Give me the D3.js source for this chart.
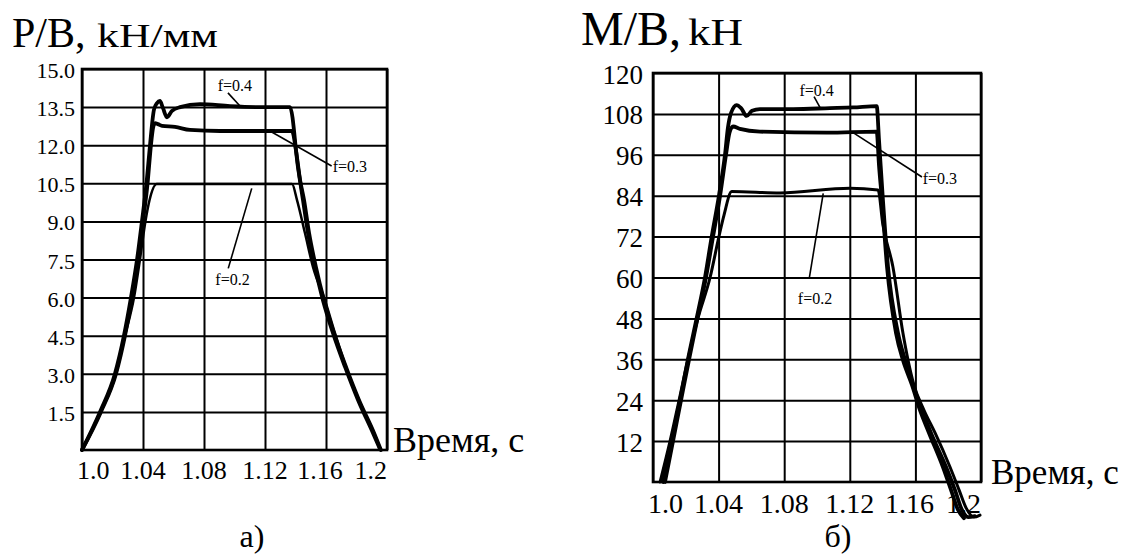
<!DOCTYPE html>
<html><head><meta charset="utf-8">
<script src="https://cdn.jsdelivr.net/npm/d3@7"></script>
<style>
body{margin:0;background:#fff}
svg{display:block}
text, tspan{font-family:"Liberation Serif","Times New Roman",Times,serif;fill:#000}
</style>
</head><body>
<svg id="c" width="1123" height="556" font-family="Liberation Serif"></svg>
<script>
// ---------- data ----------
const timeTicks = [1.0, 1.04, 1.08, 1.12, 1.16, 1.2];
const timeTickLabels = ["1.0", "1.04", "1.08", "1.12", "1.16", "1.2"];

const pbTicks = [1.5, 3, 4.5, 6, 7.5, 9, 10.5, 12, 13.5, 15];
const pbTickLabels = ["1.5", "3.0", "4.5", "6.0", "7.5", "9.0", "10.5", "12.0", "13.5", "15.0"];

const mbTicks = [12, 24, 36, 48, 60, 72, 84, 96, 108, 120];
const mbTickLabels = ["12", "24", "36", "48", "60", "72", "84", "96", "108", "120"];

// P/B, f = 0.4 / 0.3 / 0.2   [time, value]
const pb04 = [[1.0,0],[1.0118,1.5],[1.0216,3.0],[1.0275,4.5],[1.0321,6.0],[1.0361,7.5],[1.0393,9.0],[1.0423,10.5],[1.0446,12.0],[1.0472,13.4],[1.0492,13.66],[1.0511,13.74],[1.0531,13.46],[1.0557,13.1],[1.059,13.35],[1.0643,13.5],[1.0774,13.62],[1.097,13.54],[1.1167,13.5],[1.1364,13.5],[1.1416,11.14],[1.1449,9.84],[1.1482,8.54],[1.1528,7.2],[1.158,5.9],[1.1646,4.6],[1.1725,3.27],[1.181,1.97],[1.1908,0.67],[1.1954,0.04]];
const pb03 = [[1.0,0],[1.0124,1.5],[1.0223,3.0],[1.0282,4.5],[1.0328,6.0],[1.0367,7.5],[1.04,9.0],[1.043,10.5],[1.0452,12.0],[1.0466,12.68],[1.0479,12.87],[1.0498,12.83],[1.0525,12.76],[1.061,12.72],[1.0708,12.6],[1.0905,12.56],[1.1167,12.56],[1.1377,12.56],[1.1403,11.8],[1.143,10.63],[1.1456,9.84],[1.1489,8.54],[1.1534,7.2],[1.1587,5.9],[1.1652,4.6],[1.1731,3.27],[1.1816,1.97],[1.1915,0.67],[1.196,0]];
const pb02 = [[1.0,0],[1.0124,1.5],[1.0223,3.0],[1.0282,4.5],[1.0341,6.0],[1.038,7.5],[1.0416,9.0],[1.0443,9.84],[1.049,10.47],[1.0774,10.47],[1.1377,10.47],[1.141,9.84],[1.1462,8.54],[1.1515,7.2],[1.1593,5.9],[1.1659,4.6],[1.1731,3.27],[1.1816,1.97],[1.1915,0.67],[1.196,0]];

// M/B, f = 0.4 / 0.3 / 0.2
const mb04 = [[1.0061,0],[1.0114,12],[1.0165,24],[1.0213,36],[1.0266,48],[1.0317,60],[1.0358,72],[1.0402,84],[1.0439,96],[1.0457,104],[1.0476,108.3],[1.051,110.6],[1.0537,109.7],[1.0571,107.4],[1.0604,108.9],[1.0652,109.4],[1.0854,109.4],[1.1079,109.7],[1.122,109.9],[1.1364,110.3],[1.1378,100.4],[1.1402,82.7],[1.1433,63.1],[1.1494,43.7],[1.1537,35.8],[1.1585,28.5],[1.164,21.1],[1.1695,14.4],[1.1787,4.4],[1.1841,-2.3],[1.1884,-8.2],[1.1921,-10.3],[1.1963,-10]];
const mb03 = [[1.0073,0],[1.0122,12],[1.0171,24],[1.022,36],[1.0271,48],[1.0323,60],[1.0366,72],[1.0409,84],[1.0445,96],[1.0466,102.4],[1.0488,104.3],[1.053,103.6],[1.0652,102.8],[1.1061,102.5],[1.1364,102.8],[1.1378,93.0],[1.1396,82.7],[1.1427,63.1],[1.1482,43.7],[1.1524,35.8],[1.1579,28.5],[1.1628,21.1],[1.1683,14.4],[1.1768,4.4],[1.1817,-2.3],[1.186,-8.2],[1.1896,-10.6]];
const mb02 = [[1.0043,0],[1.0104,12],[1.0159,24],[1.0213,36],[1.0274,48],[1.0348,60],[1.0402,72],[1.0433,78.3],[1.048,85.2],[1.0774,84.8],[1.1201,86.2],[1.1372,85.7],[1.1402,75.4],[1.1463,63.1],[1.1524,43.7],[1.1555,35.8],[1.1591,28.5],[1.1652,21.1],[1.172,14.4],[1.1811,4.4],[1.1866,-2.3],[1.1909,-7.6],[1.1957,-10.3],[1.1994,-9.7]];

// curve labels: text position, leader line from -> to (data coords)
const pbNotes = [
  {text:"f=0.4", at:[1.1003,14.37], anchor:"middle", from:[1.0957,14.06], to:[1.1036,13.54]},
  {text:"f=0.3", at:[1.1644,11.15], anchor:"start",  from:[1.1244,12.52], to:[1.1637,11.18]},
  {text:"f=0.2", at:[1.0987,6.73],  anchor:"middle", from:[1.0959,7.15],  to:[1.1113,10.3]}
];
const mbNotes = [
  {text:"f=0.4", at:[1.0998,115.0], anchor:"middle", from:[1.0982,113.1], to:[1.1018,109.9]},
  {text:"f=0.3", at:[1.1645,89.1],  anchor:"start",  from:[1.122,102.5],  to:[1.164,89.5]},
  {text:"f=0.2", at:[1.0988,53.9],  anchor:"middle", from:[1.0953,59.8],  to:[1.1038,84.7]}
];

// ---------- drawing ----------
const FONT = "Liberation Serif";
const svg = d3.select("#c");

function panel(o) {
  const x = d3.scaleLinear().domain([1.0, 1.2]).range([o.x0, o.x1]);
  const y = d3.scaleLinear().domain([0, o.ymax]).range([o.y1, o.y0]);
  const g = svg.append("g").attr("font-family", FONT);

  // vertical grid
  g.append("g").attr("transform", `translate(0,${o.y1})`)
    .call(d3.axisBottom(x).tickValues(timeTicks).tickSize(-(o.y1 - o.y0)).tickFormat(""))
    .call(a => a.select(".domain").remove())
    .call(a => a.selectAll("line").attr("stroke", "#000").attr("stroke-width", 2));
  // horizontal grid
  g.append("g").attr("transform", `translate(${o.x0},0)`)
    .call(d3.axisLeft(y).tickValues(o.yTicks).tickSize(-(o.x1 - o.x0)).tickFormat(""))
    .call(a => a.select(".domain").remove())
    .call(a => a.selectAll("line").attr("stroke", "#000").attr("stroke-width", 2));
  // frame
  g.append("rect").attr("x", o.x0).attr("y", o.y0)
    .attr("width", o.x1 - o.x0).attr("height", o.y1 - o.y0)
    .attr("fill", "none").attr("stroke", "#000").attr("stroke-width", 2.6);

  // y tick labels
  g.selectAll(".yl").data(o.yTicks).join("text")
    .attr("font-family", FONT)
    .attr("x", o.x0 - o.yPad).attr("y", d => y(d) + 1.5)
    .attr("text-anchor", "end").attr("dominant-baseline", "central")
    .attr("font-size", o.yFont)
    .text((d, i) => o.yLabels[i]);

  // x tick labels
  g.selectAll(".xl").data(timeTicks).join("text")
    .attr("font-family", FONT)
    .attr("x", (d, i) => x(d) + (i === 0 ? -5 : 0) + (i === 4 ? -6 : 0))
    .attr("y", o.xBase)
    .attr("text-anchor", (d, i) => i === 0 ? "start" : (i === timeTicks.length - 1 ? "end" : "middle"))
    .attr("font-size", o.xFont)
    .text((d, i) => timeTickLabels[i]);

  // curves
  const line = d3.line().x(d => x(d[0])).y(d => y(d[1])).curve(d3.curveMonotoneX);
  o.series.forEach(s => {
    g.append("path").datum(s.data).attr("d", line)
      .attr("fill", "none").attr("stroke", "#000")
      .attr("stroke-width", s.w).attr("stroke-linejoin", "round").attr("stroke-linecap", "round");
  });

  // annotations
  o.notes.forEach(n => {
    g.append("line")
      .attr("x1", x(n.from[0])).attr("y1", y(n.from[1]))
      .attr("x2", x(n.to[0])).attr("y2", y(n.to[1]))
      .attr("stroke", "#000").attr("stroke-width", 1.6);
    g.append("text").attr("font-family", FONT)
      .attr("x", x(n.at[0])).attr("y", y(n.at[1]))
      .attr("text-anchor", n.anchor).attr("dominant-baseline", "central")
      .attr("font-size", o.noteFont)
      .text(n.text);
  });

  // axis titles
  g.append("text").attr("font-family", FONT).attr("x", o.titleX).attr("y", o.titleY)
    .attr("font-size", o.titleBig).text(o.titleA);
  g.append("text").attr("font-family", FONT).attr("x", o.unitX).attr("y", o.titleY)
    .attr("font-size", o.titleSmall)
    .attr("textLength", o.unitW).attr("lengthAdjust", "spacingAndGlyphs")
    .text(o.titleB);

  g.append("text").attr("font-family", FONT).attr("x", o.timeX).attr("y", o.timeY)
    .attr("font-size", o.timeFont).text("Время, с");

  g.append("text").attr("font-family", FONT).attr("x", o.capX).attr("y", 547)
    .attr("text-anchor", "middle").attr("font-size", 32).text(o.caption);
}

panel({
  x0: 82, x1: 387, y0: 69, y1: 450, ymax: 15,
  yTicks: pbTicks, yLabels: pbTickLabels, yPad: 7, yFont: 22,
  xBase: 479, xFont: 26,
  series: [{data: pb04, w: 3.8}, {data: pb03, w: 3.8}, {data: pb02, w: 2.5}],
  notes: pbNotes, noteFont: 16,
  titleX: 12, titleY: 47, titleBig: 42, titleA: "P/B,",
  unitX: 97, unitW: 121, titleSmall: 33, titleB: "kH/мм",
  timeX: 393, timeY: 452, timeFont: 36,
  capX: 252, caption: "а)"
});

panel({
  x0: 653, x1: 981, y0: 73, y1: 482, ymax: 120,
  yTicks: mbTicks, yLabels: mbTickLabels, yPad: 10, yFont: 27,
  xBase: 513, xFont: 28,
  series: [{data: mb04, w: 3.8}, {data: mb03, w: 3.8}, {data: mb02, w: 3.0}],
  notes: mbNotes, noteFont: 16,
  titleX: 581, titleY: 45, titleBig: 48, titleA: "M/B,",
  unitX: 688, unitW: 55, titleSmall: 38, titleB: "kH",
  timeX: 991, timeY: 484, timeFont: 35,
  capX: 838, caption: "б)"
});
</script>
</body></html>
